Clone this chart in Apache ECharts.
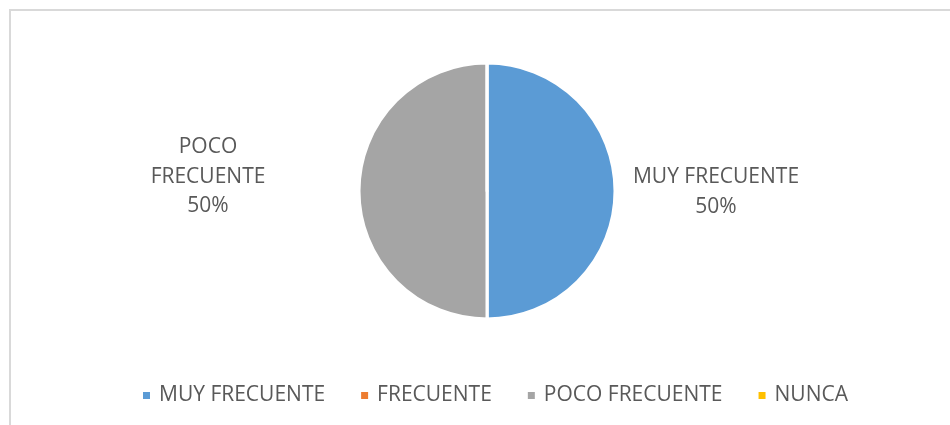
<!DOCTYPE html>
<html><head><meta charset="utf-8">
<script src="https://cdn.jsdelivr.net/npm/echarts@6/dist/echarts.min.js"></script>
<style>
html,body{margin:0;padding:0;background:#fff;overflow:hidden}
#frame{position:absolute;left:9px;top:9px;width:960px;height:440px;border:2px solid #d9d9d9;box-sizing:border-box}
#c{position:absolute;left:0;top:0;width:950px;height:425px}
</style></head>
<body>
<div id="frame"></div>
<div id="c"></div>
<script>
const categories = ['MUY FRECUENTE', 'FRECUENTE', 'POCO FRECUENTE', 'NUNCA'];
const values = [50, 0, 50, 0];
const colors = ['#5b9bd5', '#ed7d31', '#a5a5a5', '#ffc000'];
const labelNames = {'MUY FRECUENTE': 'MUY FRECUENTE', 'POCO FRECUENTE': 'POCO\nFRECUENTE'};

const chart = echarts.init(document.getElementById('c'), null, {renderer: 'canvas'});
const font = '"Open Sans", "DejaVu Sans", sans-serif';
const data = categories.map((n, i) => ({
  name: n, value: values[i],
  label: {show: values[i] > 0}
}));
chart.setOption({
  color: colors,
  animation: false,
  legend: {
    bottom: 14, left: 136,
    itemWidth: 9, itemHeight: 9, itemGap: 34,
    icon: 'rect',
    textStyle: {fontFamily: font, fontSize: 21, color: '#595959', padding: [0, 0, 0, 3]},
    data: categories
  },
  series: [{
    type: 'pie',
    center: [487, 191],
    radius: 128,
    startAngle: 90,
    clockwise: true,
    itemStyle: {borderColor: '#fff', borderWidth: 3},
    label: {
      position: 'outside',
      fontFamily: font, fontSize: 21, color: '#595959',
      lineHeight: 29.5, align: 'center',
      formatter: p => (labelNames[p.name] || p.name) + '\n' + Math.round(p.percent) + '%'
    },
    labelLine: {show: false},
    labelLayout: function (p) {
      if (p.dataIndex === 0) return {x: 716, y: 192, align: 'center', verticalAlign: 'middle'};
      if (p.dataIndex === 2) return {x: 208, y: 177, align: 'center', verticalAlign: 'middle'};
      return {};
    },
    data: data
  }]
});
</script>
</body></html>
